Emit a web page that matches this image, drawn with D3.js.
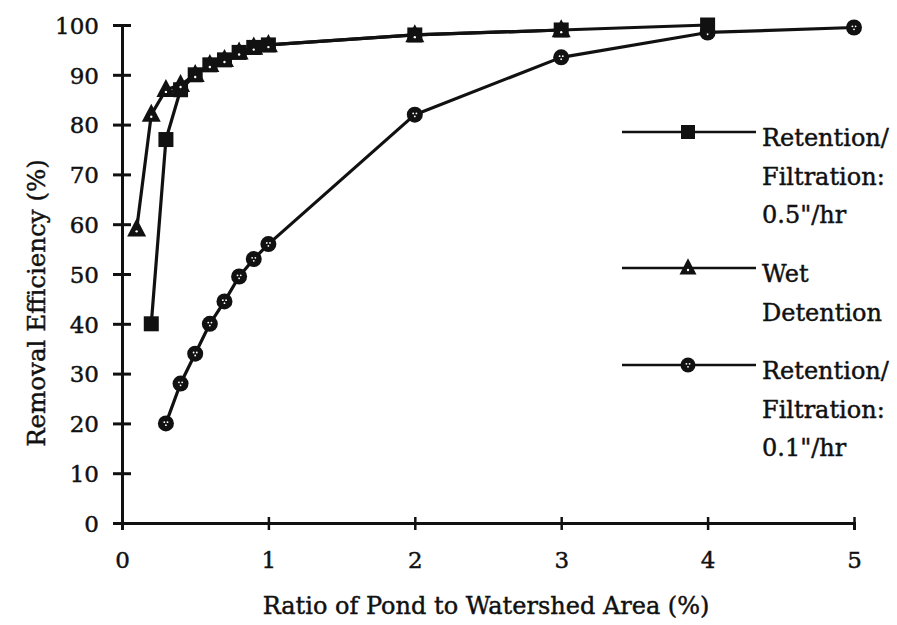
<!DOCTYPE html>
<html>
<head>
<meta charset="utf-8">
<script src="https://cdn.jsdelivr.net/npm/d3@7"></script>
<style>
  html, body { margin: 0; padding: 0; background: #fff; }
  svg { display: block; }
  text { font-family: "DejaVu Serif", "Liberation Serif", serif; fill: #111; stroke: #111; stroke-width: 0.45px; }
</style>
</head>
<body>
<svg id="chart" width="897" height="625"></svg>
<script>
// Ratio of pond area to watershed area (%)
const ratioFast = [0.2, 0.3, 0.4, 0.5, 0.6, 0.7, 0.8, 0.9, 1.0, 2, 3, 4];
const effFast   = [40, 77, 87, 90, 92, 93, 94.5, 95.5, 96, 98, 99, 100];

const ratioWet  = [0.1, 0.2, 0.3, 0.4, 0.5, 0.6, 0.7, 0.8, 0.9, 1.0, 2, 3];
const effWet    = [59, 82, 87, 88, 90, 92, 93, 94.5, 95.5, 96, 98, 99];

const ratioSlow = [0.3, 0.4, 0.5, 0.6, 0.7, 0.8, 0.9, 1.0, 2, 3, 4, 5];
const effSlow   = [20, 28, 34, 40, 44.5, 49.5, 53, 56, 82, 93.5, 98.5, 99.5];

const xTicks = [0, 1, 2, 3, 4, 5];
const yTicks = [0, 10, 20, 30, 40, 50, 60, 70, 80, 90, 100];

const legendLabels = [
  ["Retention/", "Filtration:", "0.5\"/hr"],
  ["Wet", "Detention"],
  ["Retention/", "Filtration:", "0.1\"/hr"]
];

const svg = d3.select("#chart");
const ink = "#111";

const x = d3.scaleLinear().domain([0, 5]).range([122, 854]);
const y = d3.scaleLinear().domain([0, 100]).range([523, 25]);

// Axes: ticks cross the axis line on both sides
const yAxis = svg.append("g")
  .attr("transform", `translate(${x(0)},0)`)
  .call(d3.axisLeft(y).tickValues(yTicks).tickSize(9).tickPadding(14));
yAxis.selectAll(".tick line").attr("x1", 9).attr("stroke-width", 3);
yAxis.select(".domain").attr("stroke-width", 3);

const xAxis = svg.append("g")
  .attr("transform", `translate(0,${y(0)})`)
  .call(d3.axisBottom(x).tickValues(xTicks).tickSize(7).tickPadding(22).tickFormat(d3.format("d")));
xAxis.selectAll(".tick line").attr("y1", -6).attr("stroke-width", 2.5);
xAxis.select(".domain").attr("stroke-width", 3);

svg.selectAll(".domain, .tick line").attr("stroke", ink);
svg.selectAll(".tick text")
  .attr("font-family", "DejaVu Serif, serif")
  .attr("font-size", 23)
  .attr("fill", ink);
yAxis.selectAll(".tick text").attr("dy", "0.36em");

// Axis titles
svg.append("text")
  .attr("x", 486).attr("y", 614)
  .attr("text-anchor", "middle")
  .attr("font-size", 24)
  .text("Ratio of Pond to Watershed Area (%)");

svg.append("text")
  .attr("transform", "translate(45,303) rotate(-90)")
  .attr("text-anchor", "middle")
  .attr("font-size", 24.5)
  .text("Removal Efficiency (%)");

// Marker painters
function drawSquare(g, cx, cy, s) {
  g.append("rect").attr("x", cx - s / 2).attr("y", cy - s / 2)
    .attr("width", s).attr("height", s).attr("fill", ink);
}
function drawTriangle(g, cx, cy, s) {
  const h = s * 0.95;
  g.append("path")
    .attr("d", `M${cx},${cy - h * 0.6}L${cx + s / 2},${cy + h * 0.4}L${cx - s / 2},${cy + h * 0.4}Z`)
    .attr("fill", ink);
  g.append("circle").attr("cx", cx).attr("cy", cy + h * 0.12).attr("r", 1.2).attr("fill", "#fff");
}
function drawCircle(g, cx, cy, r) {
  g.append("circle").attr("cx", cx).attr("cy", cy).attr("r", r).attr("fill", ink);
  [[-1.6, -1.2], [1.6, -1.2], [0, 1.8]].forEach(([dx, dy]) =>
    g.append("circle").attr("cx", cx + dx).attr("cy", cy + dy).attr("r", 0.9).attr("fill", "#fff"));
}

const line = d3.line().x(d => x(d[0])).y(d => y(d[1]));

const series = [
  { xs: ratioSlow, ys: effSlow, mark: (g, cx, cy) => drawCircle(g, cx, cy, 8) },
  { xs: ratioFast, ys: effFast, mark: (g, cx, cy) => drawSquare(g, cx, cy, 15) },
  { xs: ratioWet,  ys: effWet,  mark: (g, cx, cy) => drawTriangle(g, cx, cy, 19) }
];

series.forEach(s => {
  const pts = s.xs.map((v, i) => [v, s.ys[i]]);
  svg.append("path").datum(pts)
    .attr("d", line)
    .attr("fill", "none")
    .attr("stroke", ink)
    .attr("stroke-width", 3.2)
    .attr("stroke-linejoin", "round");
});
series.forEach(s => {
  const g = svg.append("g");
  s.xs.forEach((v, i) => s.mark(g, x(v), y(s.ys[i])));
});

// Legend
const legendY = [132, 268, 365];
const legendMarks = [
  (g, cx, cy) => drawSquare(g, cx, cy, 14),
  (g, cx, cy) => drawTriangle(g, cx, cy, 17),
  (g, cx, cy) => drawCircle(g, cx, cy, 7.5)
];
legendLabels.forEach((lines, i) => {
  const g = svg.append("g");
  const ly = legendY[i];
  g.append("line").attr("x1", 622).attr("x2", 756).attr("y1", ly).attr("y2", ly)
    .attr("stroke", ink).attr("stroke-width", 2.5);
  legendMarks[i](g, 688, ly);
  lines.forEach((t, j) => {
    g.append("text")
      .attr("x", 762).attr("y", ly + 14 + j * 38.5)
      .attr("font-size", 24)
      .text(t);
  });
});
</script>
</body>
</html>
